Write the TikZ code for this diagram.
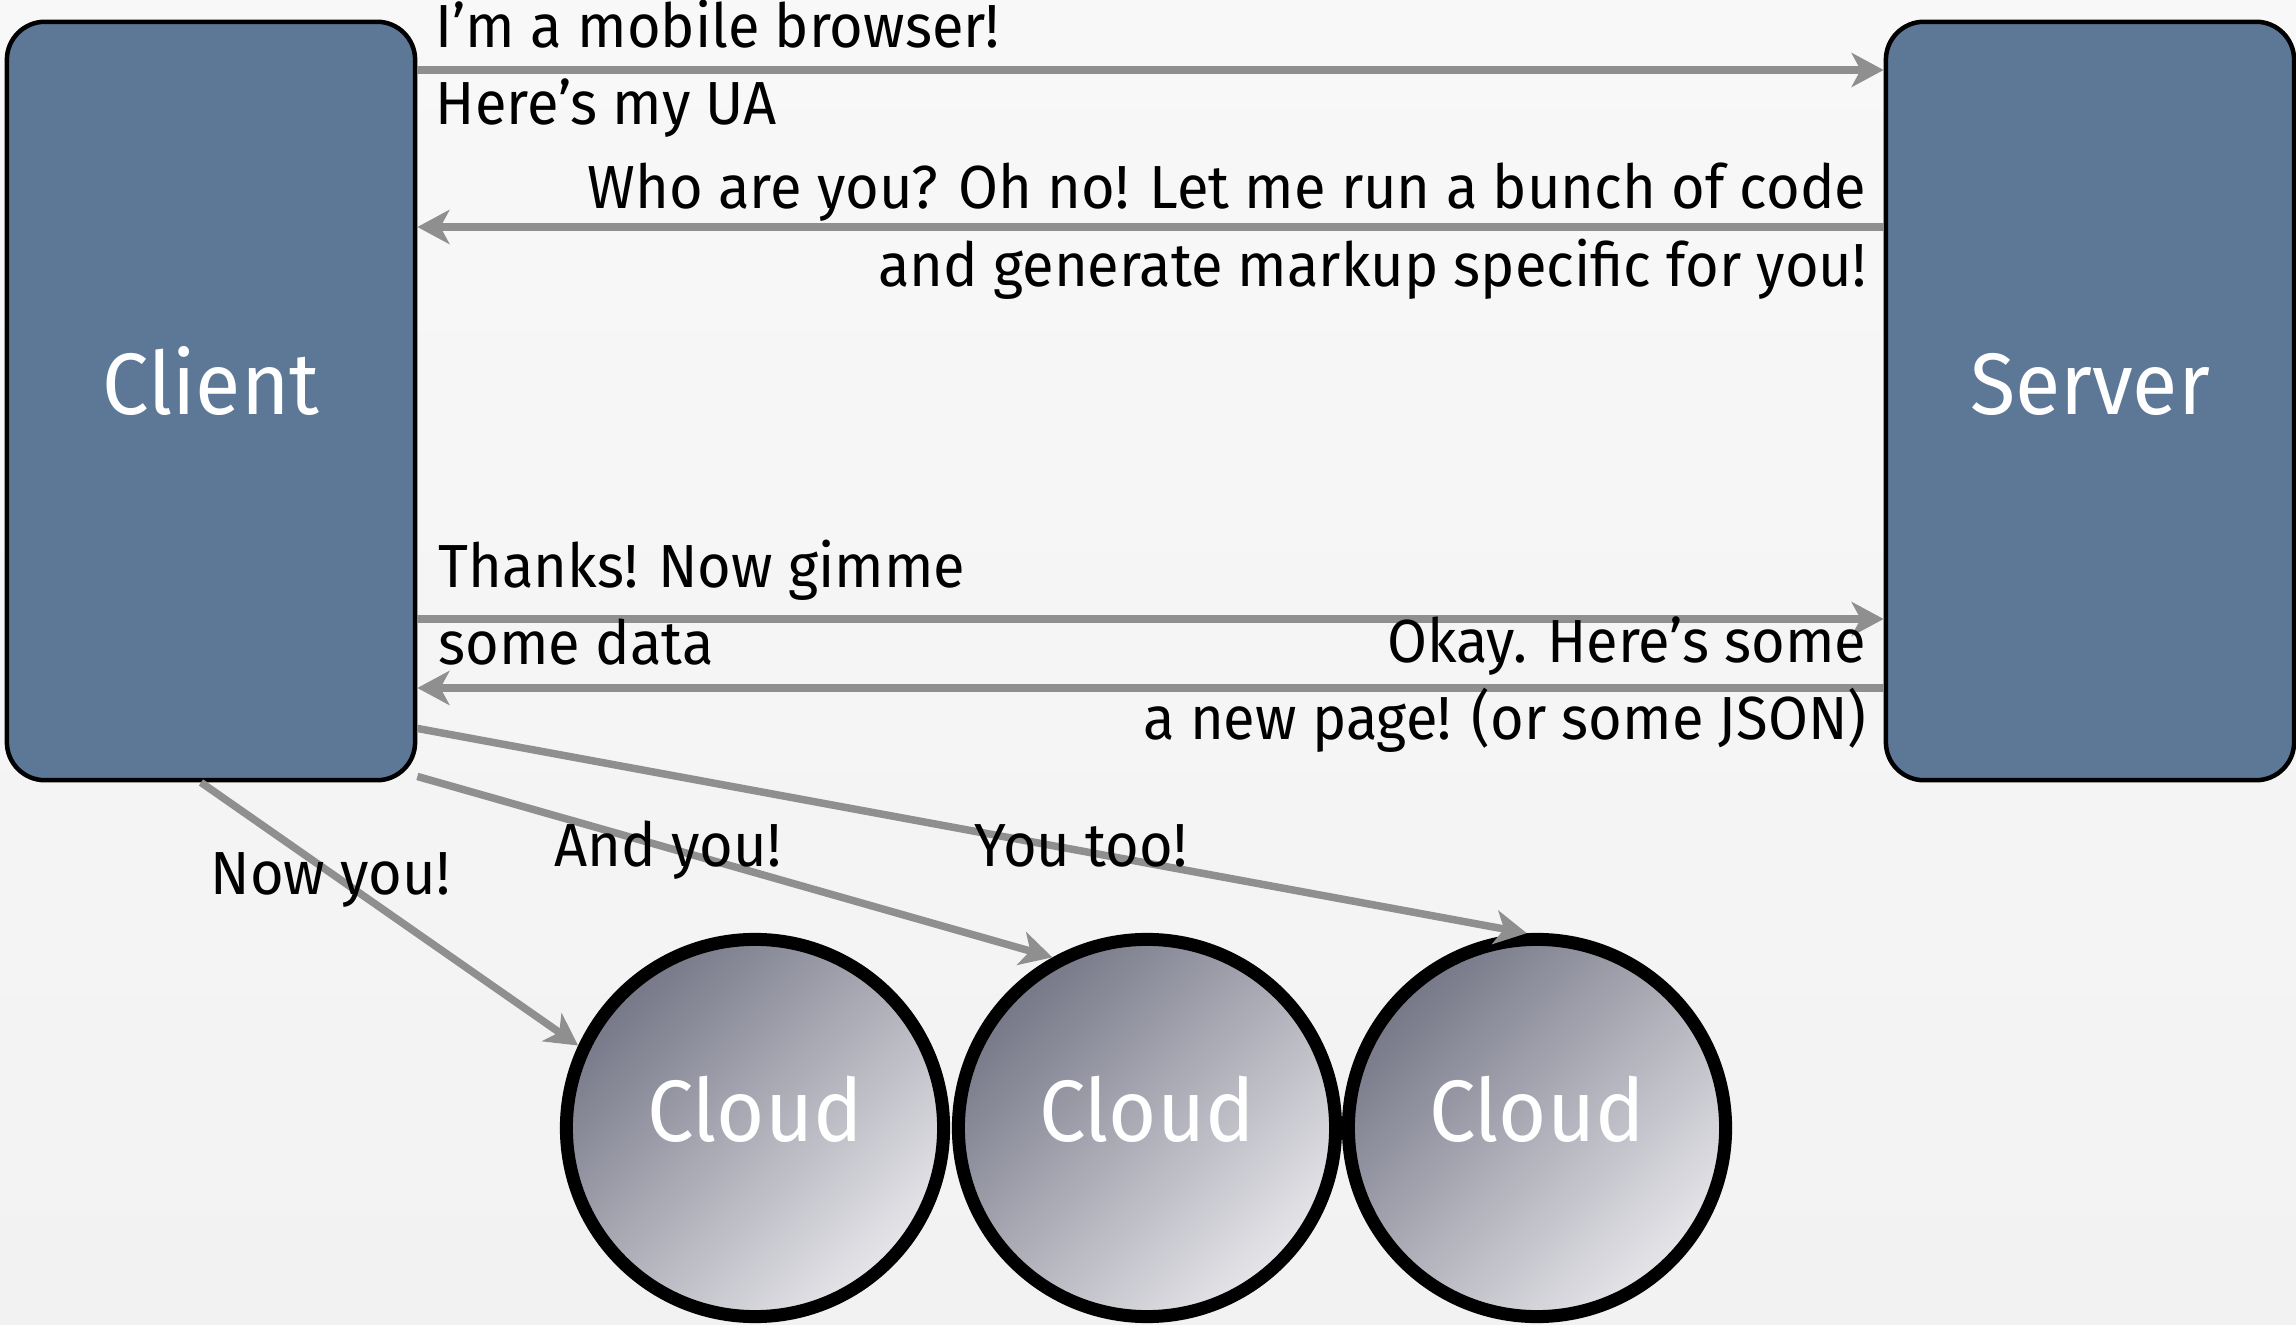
\documentclass[tikz,border=0pt]{standalone}
\usepackage{fontspec}
\setmainfont{Fira Sans}[FakeStretch=0.95]
\usetikzlibrary{arrows.meta,calc,positioning}

\definecolor{paper}{RGB}{248,248,248}
\definecolor{paperlow}{RGB}{242,242,242}
\definecolor{hostblue}{RGB}{92,120,150}
\definecolor{msggray}{RGB}{143,143,143}
\definecolor{clouddark}{RGB}{118,119,135}
\definecolor{cloudlight}{RGB}{230,230,234}

\begin{document}
\begin{tikzpicture}[
		x=0.01cm, y=-0.01cm,
		bigtext/.style={text=white, font=\fontsize{24.8}{30}\selectfont,
			text height=0.67cm, text depth=0.41cm},
		host/.style={bigtext, draw=black, line width=0.045cm, fill=hostblue,
			rounded corners=0.38cm, minimum width=4.08cm, minimum height=7.58cm},
		cloud/.style={bigtext, circle, draw=black, line width=0.13cm,
			minimum size=3.77cm, top color=clouddark, bottom color=cloudlight,
			shading angle=45},
		msg/.style={draw=msggray, line width=0.075cm,
			-{Stealth[length=0.32cm,width=0.34cm,inset=0.09cm]}},
		say/.style={inner sep=0pt, font=\fontsize{17.3}{20}\selectfont}]

		\useasboundingbox (0,0) rectangle (2296,1325);
		\fill[top color=paper, bottom color=paperlow] (0,0) rectangle (2296,1325);

		\node[host] (client) at (211,401) {Client};
		\node[host] (server) at ($ (client) + (1879,0) $) {Server};

		\node[cloud] (cloud1) at (755,1128) {Cloud};
		\node[cloud] (cloud2) at ($ (cloud1) + (392,0) $) {Cloud};
		\node[cloud] (cloud3) at ($ (cloud2) + (390,0) $) {Cloud};

		% requests and answers
		\draw[msg] (client.east |- 0,70) -- (server.west |- 0,70);
		\draw[msg] (server.west |- 0,227) -- (client.east |- 0,227);
		\draw[msg] (client.east |- 0,619) -- (server.west |- 0,619);
		\draw[msg] (server.west |- 0,688) -- (client.east |- 0,688);

		\draw[msg] ([xshift=-0.1cm]client.south) -- (cloud1.155);
		\draw[msg] ([yshift=0.06cm]client.south east) -- (cloud2.119);
		\draw[msg] ([yshift=0.54cm]client.south east) -- (cloud3.93);

		\node[say, anchor=base west] (mobile) at (435,48) {I’m a mobile browser!};
		\node[say, anchor=base west] (myua) at (435,125) {Here’s my UA};
		\node[say, anchor=base east] (whoareyou) at (1867,209) {Who are you? Oh no! Let me run a bunch of code};
		\node[say, anchor=base east] (markup) at (1867,287) {and generate markup specific for you!};
		\node[say, anchor=base west] (thanks) at (438,588) {Thanks! Now gimme};
		\node[say, anchor=base west] (somedata) at (438,665) {some data};
		\node[say, anchor=base east] (okay) at (1867,663) {Okay. Here’s some};
		\node[say, anchor=base east] (newpage) at (1867,740) {a new page! (or some JSON)};

		\node[say, anchor=base west] (nowyou) at (210,895) {Now you!};
		\node[say, anchor=base west] (andyou) at (554,867) {And you!};
		\node[say, anchor=base west] (youtoo) at (974,867) {You too!};

\end{tikzpicture}
\end{document}
